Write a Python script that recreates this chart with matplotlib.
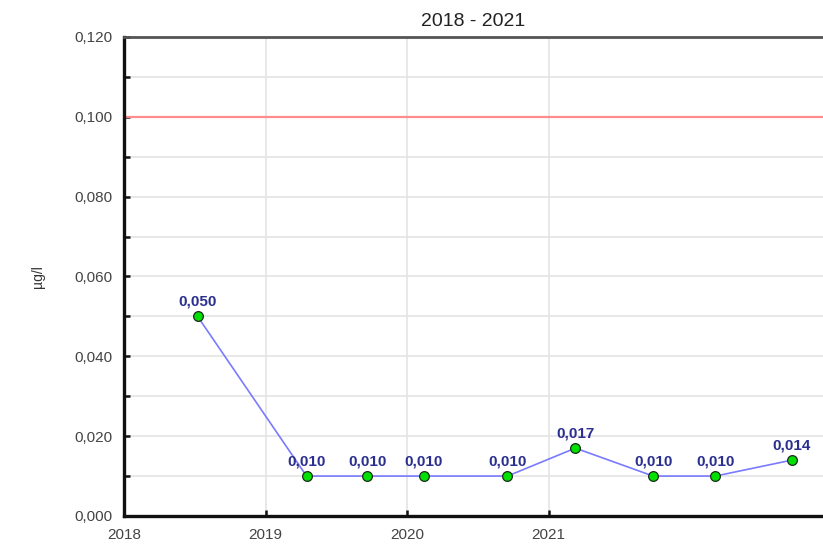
import matplotlib
matplotlib.use("Agg")
import matplotlib.pyplot as plt
from matplotlib.ticker import FuncFormatter, MultipleLocator

plt.rcParams['font.family'] = ['Liberation Sans', 'DejaVu Sans']

# sampling dates as decimal years, concentrations in µg/l
years = [2018.52, 2019.29, 2019.72, 2020.12, 2020.71, 2021.19, 2021.74, 2022.18, 2022.72]
values = [0.050, 0.010, 0.010, 0.010, 0.010, 0.017, 0.010, 0.010, 0.014]
limit_value = 0.100
year_ticks = [2018, 2019, 2020, 2021]

fig = plt.figure(figsize=(8.23, 5.47), dpi=100)
ax = fig.add_axes([0.1507, 0.0567, 0.8493, 0.8757])

ax.set_xlim(2018, 2022.94)
ax.set_ylim(0, 0.120)

ax.set_xticks(year_ticks)
ax.set_xticklabels([str(y) for y in year_ticks])
ax.yaxis.set_major_locator(MultipleLocator(0.020))
ax.yaxis.set_minor_locator(MultipleLocator(0.010))
ax.yaxis.set_major_formatter(FuncFormatter(lambda v, p: f"{v:.3f}".replace(".", ",")))

ax.grid(True, which="both", axis="y", color="#e4e4e4", lw=1.2, zorder=0)
ax.grid(True, which="major", axis="x", color="#e4e4e4", lw=1.2, zorder=0)

ax.tick_params(axis="both", which="both", direction="in", colors="#111111",
               labelcolor="#444444", labelsize=11, width=1.8, length=4)
ax.tick_params(axis="y", which="major", pad=8)
ax.tick_params(axis="x", pad=9)

for s in ["left", "bottom"]:
    ax.spines[s].set_linewidth(2.4)
    ax.spines[s].set_color("#111111")
ax.spines["top"].set_linewidth(2)
ax.spines["top"].set_color("#555555")
ax.spines["right"].set_visible(False)

ax.axhline(limit_value, color="#ff8c8c", lw=1.6, zorder=2)

ax.plot(years, values, color="#7a7aff", lw=1.2, zorder=3)
ax.plot(years, values, "o", ms=7, mfc="#00e000", mec="#1a2a1a", mew=0.9, zorder=4)

for x, v in zip(years, values):
    ax.annotate(f"{v:.3f}".replace(".", ","), (x, v), xytext=(0, 5.5),
                textcoords="offset points", ha="center", va="bottom",
                fontsize=11, fontweight="bold", color="#2b2f8f", zorder=5)

ax.set_title("2018 - 2021", fontsize=14, color="#222222", pad=8)
fig.text(0.046, 0.495, "µg/l", rotation=90, ha="center", va="center",
         fontsize=10, color="#333333")

fig.savefig("out.png", dpi=100)
